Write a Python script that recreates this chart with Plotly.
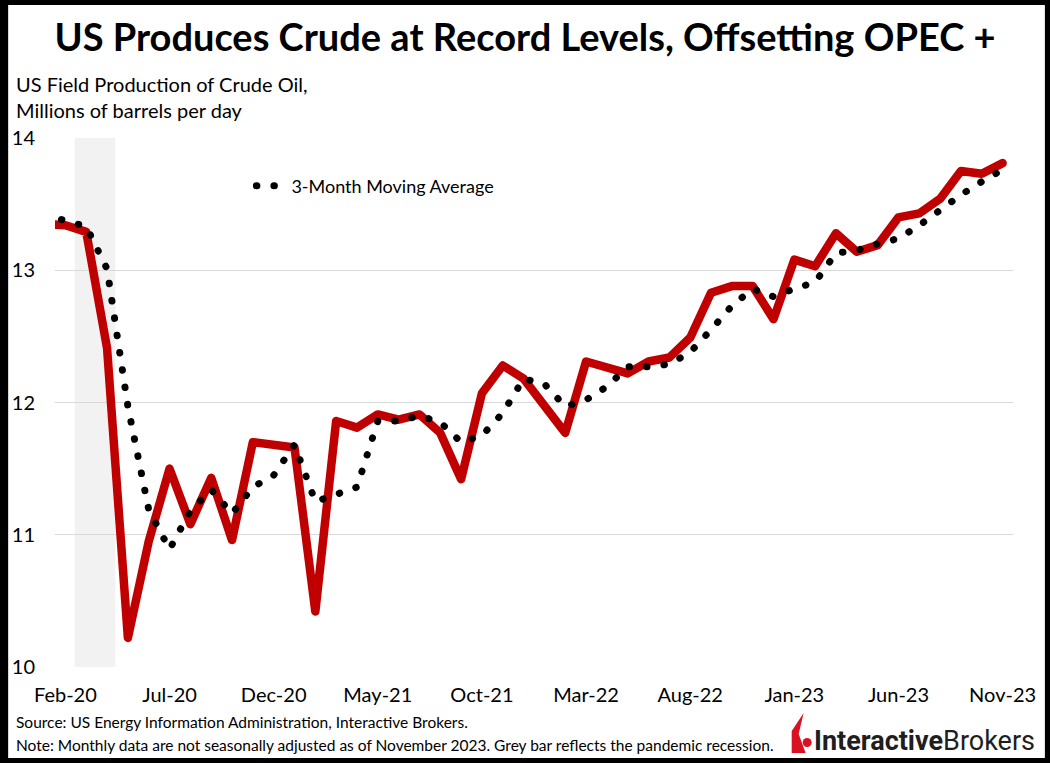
import plotly.graph_objects as go
import pandas as pd

# ---- Data ----
production = [13.35, 13.34, 13.29, 12.41, 10.22, 10.95, 11.50, 11.08, 11.43, 10.96,
              11.70, 11.68, 11.66, 10.42, 11.86, 11.81, 11.91, 11.87, 11.91, 11.77,
              11.42, 12.07, 12.28, 12.18, 11.97, 11.77, 12.31, 12.27, 12.22, 12.31,
              12.34, 12.49, 12.83, 12.88, 12.88, 12.63, 13.08, 13.03, 13.28, 13.14,
              13.19, 13.40, 13.43, 13.54, 13.75, 13.73, 13.81]
moving_avg = [13.42, 13.38, 13.33, 13.01, 11.97, 11.19, 10.89, 11.18, 11.34, 11.16,
              11.36, 11.45, 11.68, 11.25, 11.31, 11.36, 11.86, 11.86, 11.90, 11.85,
              11.70, 11.75, 11.92, 12.18, 12.14, 11.97, 12.02, 12.12, 12.27, 12.27,
              12.29, 12.38, 12.55, 12.73, 12.86, 12.80, 12.86, 12.91, 13.13, 13.15,
              13.20, 13.24, 13.34, 13.46, 13.57, 13.67, 13.76]
months = pd.date_range("2020-01-01", periods=len(production), freq="MS").strftime("%b-%y").tolist()
tick_labels = ["Feb-20", "Jul-20", "Dec-20", "May-21", "Oct-21", "Mar-22",
               "Aug-22", "Jan-23", "Jun-23", "Nov-23"]
recession_months = ["Mar-20", "Apr-20"]

# ---- Layout geometry ----
W, H = 1050, 763
L, R, T, B = 52, 37, 138, 96
PW, PH = W - L - R, H - T - B


def fx(px):
    return (px - L) / PW


def fy(py):
    return (H - B - py) / PH


FONT = "Lato"
fig = go.Figure()
fig.add_trace(go.Scatter(x=months, y=production, mode="lines",
                         line=dict(color="#C00000", width=8.5),
                         showlegend=False, hoverinfo="x+y"))
fig.add_trace(go.Scatter(x=months, y=moving_avg, mode="lines",
                         name="3-Month Moving Average",
                         line=dict(color="black", width=7, dash="0.5px,17px"),
                         hoverinfo="x+y"))

shapes = [
    dict(type="rect", xref="x", yref="y",
         x0=months.index(recession_months[0]) - 0.55,
         x1=months.index(recession_months[-1]) + 0.4,
         y0=10, y1=14, fillcolor="#F2F2F2", line=dict(width=0), layer="below"),
    # outer frame
    dict(type="rect", xref="paper", yref="paper",
         x0=fx(0), x1=fx(W), y0=fy(H), y1=fy(0),
         line=dict(color="black", width=10), fillcolor="rgba(0,0,0,0)", layer="above"),
]

# logo icon (red flame + dot)
pts = [(791, 753), (791, 731), (803, 713), (798, 734), (805, 753)]
path = "M " + " L ".join(f"{fx(a):.5f},{fy(b):.5f}" for a, b in pts) + " Z"
shapes.append(dict(type="path", xref="paper", yref="paper", path=path,
                   fillcolor="#D81222", line=dict(width=0), layer="above"))
shapes.append(dict(type="circle", xref="paper", yref="paper",
                   x0=fx(802), x1=fx(811), y0=fy(747), y1=fy(738),
                   fillcolor="#D81222", line=dict(width=0), layer="above"))

annotations = [
    dict(text="US Field Production of Crude Oil,<br>Millions of barrels per day",
         xref="paper", yref="paper", x=fx(11), y=fy(70), xanchor="left", yanchor="top",
         align="left", showarrow=False, font=dict(family=FONT, size=20, color="black")),
    dict(text="Source: US Energy Information Administration, Interactive Brokers.",
         xref="paper", yref="paper", x=fx(11), y=fy(722), xanchor="left", yanchor="middle",
         align="left", showarrow=False, font=dict(family=FONT, size=15.5, color="black")),
    dict(text="Note: Monthly data are not seasonally adjusted as of November 2023. Grey bar reflects the pandemic recession.",
         xref="paper", yref="paper", x=fx(11), y=fy(745), xanchor="left", yanchor="middle",
         align="left", showarrow=False, font=dict(family=FONT, size=15.5, color="black")),
    dict(text="<b>Interactive</b>Brokers",
         xref="paper", yref="paper", x=fx(1037), y=fy(741), xanchor="right", yanchor="middle",
         showarrow=False, font=dict(family="Roboto", size=27, color="#1E1E1E")),
]

fig.update_layout(
    width=W, height=H,
    margin=dict(l=L, r=R, t=T, b=B),
    paper_bgcolor="white", plot_bgcolor="white",
    title=dict(text="<b>US Produces Crude at Record Levels, Offsetting OPEC +</b>",
               xref="container", yref="container", x=0.5, xanchor="center",
               y=1 - 38 / H, yanchor="middle",
               font=dict(family=FONT, size=38, color="black")),
    xaxis=dict(type="category", categoryorder="array", categoryarray=months,
               range=[0.5, len(months) - 0.5], tickmode="array", tickvals=tick_labels,
               ticktext=tick_labels, showgrid=False, showline=False, zeroline=False,
               ticks="", ticklabelstandoff=14,
               tickfont=dict(family=FONT, size=20, color="black")),
    yaxis=dict(range=[10, 14], dtick=1, tick0=10, showgrid=True, gridcolor="#D9D9D9",
               gridwidth=1.3, zeroline=False, showline=False, ticks="",
               ticklabelstandoff=19,
               tickfont=dict(family=FONT, size=20, color="black")),
    legend=dict(x=fx(249), y=fy(186), xanchor="left", yanchor="middle",
                bgcolor="rgba(0,0,0,0)", borderwidth=0,
                font=dict(family=FONT, size=18, color="black"), itemwidth=30),
    shapes=shapes,
    annotations=annotations,
    showlegend=True,
)

post = """
document.body.style.margin='0';
var s=document.createElement('style');
s.innerHTML='path.js-line{stroke-linecap:round;stroke-linejoin:round;}';
document.head.appendChild(s);
"""
fig.write_html("out.html", post_script=post, config={"displayModeBar": False})
